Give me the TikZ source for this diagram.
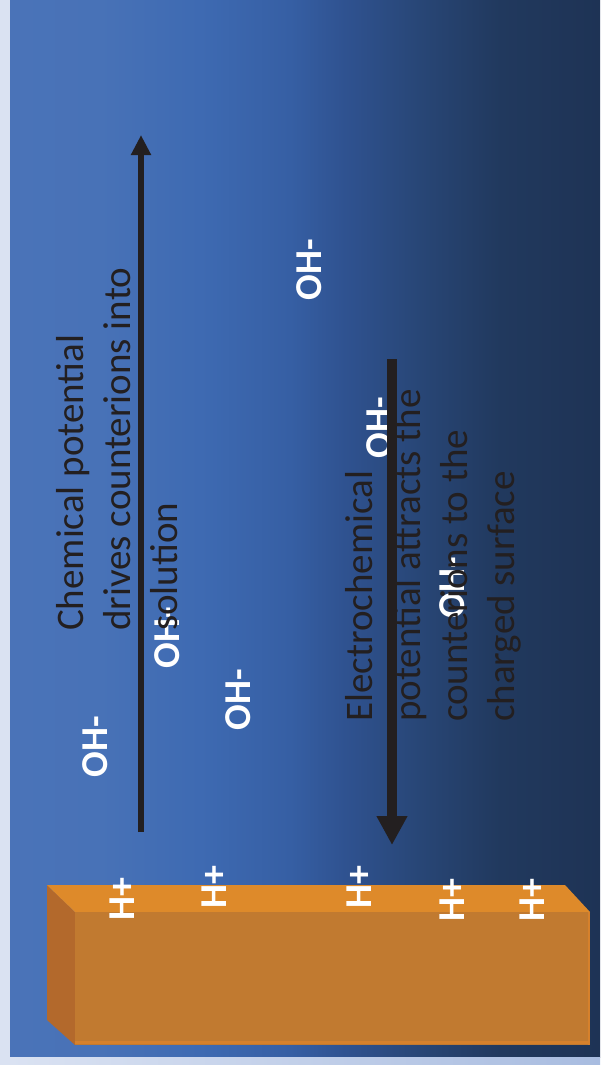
\documentclass[tikz,border=0pt]{standalone}
\usepackage{fontspec}
\setmainfont{Carlito}
\usetikzlibrary{arrows.meta}
\definecolor{bgA}{HTML}{4A73B8}
\definecolor{bgB}{HTML}{4872B7}
\definecolor{bgC}{HTML}{3E6AB2}
\definecolor{bgD}{HTML}{365FA4}
\definecolor{bgE}{HTML}{2F5290}
\definecolor{bgF}{HTML}{284676}
\definecolor{bgG}{HTML}{21395E}
\definecolor{bgH}{HTML}{1E3355}
\definecolor{edgeL}{HTML}{DAE2F2}
\definecolor{edgeR}{HTML}{A8BCE0}
\definecolor{boxTop}{HTML}{DE8A2A}
\definecolor{boxFront}{HTML}{C17A30}
\definecolor{boxSide}{HTML}{B3692C}
\definecolor{boxHi}{HTML}{D6812C}
\definecolor{ink}{HTML}{231F20}
\pgfdeclarehorizontalshading{slidebg}{100bp}{color(0bp)=(bgA); color(25bp)=(bgA); color(32.63bp)=(bgB); color(41.10bp)=(bgC); color(48.73bp)=(bgD); color(53.39bp)=(bgE); color(59.75bp)=(bgF); color(66.53bp)=(bgG); color(75bp)=(bgH); color(100bp)=(bgH)}
\begin{document}
\begin{tikzpicture}[x=1pt,y=-1pt,
  ion/.style={rotate=90, inner sep=0pt, text=white, font=\fontsize{38}{38}\selectfont\bfseries},
  txt/.style={rotate=90, anchor=base west, inner sep=0pt, text=ink, font=\fontsize{39}{47}\selectfont},
  thinarrow/.style={draw=ink, line width=6.5pt, -{Triangle[width=19pt,length=20pt]}},
  thickarrow/.style={draw=ink, line width=10pt, -{Triangle[width=29pt,length=29pt]}}]
\useasboundingbox (0,0) rectangle (600,1065);
% background
\fill[edgeL] (0,0) rectangle (10,1065);
\shade[shading=slidebg] (10,0) rectangle (600,1057);
\shade[left color=edgeL, right color=edgeR] (10,1057) rectangle (600,1065);
% orange box
\fill[boxSide] (47,885) -- (75,912) -- (75,1045) -- (47,1020) -- cycle;
\fill[boxTop] (47,885) -- (565,885) -- (590,912) -- (75,912) -- cycle;
\fill[boxFront] (75,912) rectangle (590,1045);
\draw[boxHi, line width=3pt] (75,1042) -- (590,1042);
\draw[boxHi, line width=2pt] (589,912) -- (589,1045);
% ions
\node[ion] (ohA) at (95,747) {OH-};
\node[ion] (ohB) at (167,638) {OH-};
\node[ion] (ohC) at (238,700) {OH-};
\node[ion] (ohD) at (309,270) {OH-};
\node[ion] (ohE) at (379,428) {OH-};
\node[ion] (ohF) at (452,588) {OH-};
\node[ion] (hpA) at (122,899) {H+};
\node[ion] (hpB) at (214,887) {H+};
\node[ion] (hpC) at (359,887) {H+};
\node[ion] (hpD) at (452,900) {H+};
\node[ion] (hpE) at (532,900) {H+};
% arrows
\coordinate (upS) at (141,832);
\coordinate (upE) at (141,135);
\coordinate (dnS) at (392,359);
\coordinate (dnE) at (392,845);
\draw[thinarrow] (upS) -- (upE);
\draw[thickarrow] (dnS) -- (dnE);
% texts
\node[txt] (chemA) at (83,631) {Chemical potential};
\node[txt] (chemB) at (130,631) {drives counterions into};
\node[txt] (chemC) at (177,631) {solution};
\node[txt] (elecA) at (372,722) {Electrochemical};
\node[txt] (elecB) at (420,722) {potential attracts the};
\node[txt] (elecC) at (467,722) {counterions to the};
\node[txt] (elecD) at (514,722) {charged surface};
\end{tikzpicture}
\end{document}
